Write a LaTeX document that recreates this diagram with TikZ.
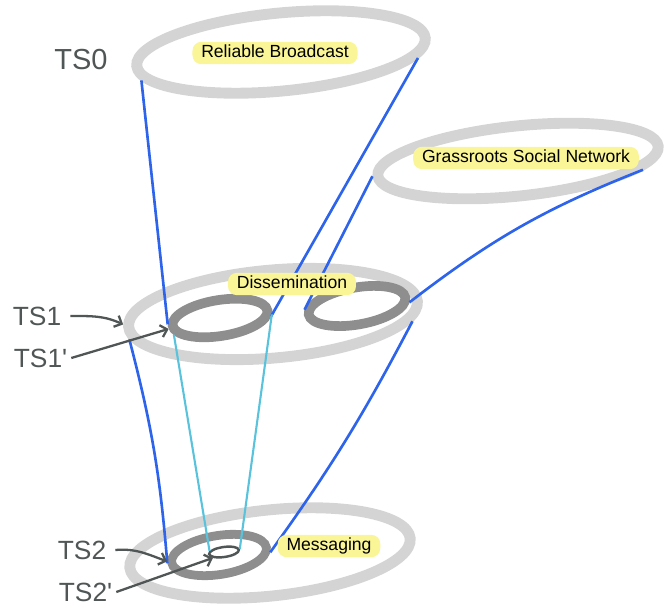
\documentclass[tikz,border=0pt]{standalone}
\usepackage{fontspec}
\setmainfont{Liberation Sans}
\usetikzlibrary{shapes.geometric,arrows.meta}
\definecolor{ringgray}{RGB}{212,212,212}
\definecolor{darkring}{RGB}{142,142,142}
\definecolor{lineblue}{RGB}{45,100,235}
\definecolor{linecyan}{RGB}{90,195,220}
\definecolor{pengray}{RGB}{80,85,85}
\definecolor{hlyellow}{RGB}{250,245,150}
\begin{document}
\begin{tikzpicture}[x=0.02cm, y=-0.02cm]
			\tikzset{ring/.style 2 args={ellipse, draw=ringgray, line width=6.2pt,
						inner sep=0pt, minimum width=#1*0.04cm, minimum height=#2*0.04cm}}
			\tikzset{inring/.style 2 args={ring={#1}{#2}, draw=darkring, line width=5.5pt}}
			\tikzset{hlnode/.style={fill=hlyellow, rounded corners=5pt, inner xsep=5pt,
						inner ysep=1.5pt, text height=7.5pt, text depth=2.2pt,
						font=\fontsize{10}{12}\selectfont}}
			\tikzset{hand/.style={text=pengray, inner sep=5pt, font=\fontsize{15}{18}\selectfont}}
			\tikzset{blueline/.style={draw=lineblue, line width=1.5pt}}
			\tikzset{cyanline/.style={draw=linecyan, line width=1.2pt}}
			\tikzset{pen/.style={draw=pengray, line width=1.3pt,
						-{Straight Barb[length=3.5pt,width=7pt]}}}

				\useasboundingbox (0,0) rectangle (665,614);

				\node[ring={145}{39}, rotate=5.5] (rb) at (281,52) {};
				\node[ring={141}{35}, rotate=6] (gsn) at (518,161) {};
				\node[ring={145}{44}, rotate=5] (dis) at (273,314) {};
				\node[ring={141}{43}, rotate=6] (msg) at (270,553) {};
				\node[inring={48}{18}, rotate=9] (disL) at (220,318) {};
				\node[inring={49}{18.5}, rotate=10] (disR) at (357,306) {};
				\node[inring={48}{19.5}, rotate=9, line width=5pt] (msgL) at (219,555) {};
				\node[ring={15}{5}, draw=pengray, line width=1.4pt, rotate=8] (msgdot) at (224,552) {};

				\draw[blueline] (rb.186) -- (disL.178);
				\draw[blueline] (rb.352) -- (disL.353);
				\draw[blueline] (gsn.180) -- (disR.174);
				\draw[blueline] (gsn.350) to[bend right=8] (disR.354);
				\draw[blueline] (dis.185) to[bend left=5] (msgL.180);
				\draw[blueline] (dis.352) to[bend left=4] (msgL.354);
				\draw[cyanline] (disL.191) -- (msgdot.168);
				\draw[cyanline] (disL.355) -- (msgdot.3);

				\node[hlnode] (rbt) at (275,53) {Reliable Broadcast};
				\node[hlnode] (gsnt) at (526,158) {Grassroots Social Network};
				\node[hlnode] (dist) at (292,284) {Dissemination};
				\node[hlnode] (msgt) at (329,546) {Messaging};

				\node[hand, font=\fontsize{16.5}{20}\selectfont] (ts0) at (81,60) {TS0};
				\node[hand] (ts1) at (37,316) {TS1};
				\node[hand] (ts1p) at (38,358) {TS1\rlap{\textquotesingle}};
				\node[hand] (ts2) at (82,550) {TS2};
				\node[hand] (ts2p) at (83,592) {TS2\rlap{\textquotesingle}};

				\draw[pen] (ts1.east) to[out=0, in=155] (dis.179);
				\draw[pen] (ts1p.east) -- (disL.183);
				\draw[pen] (ts2.east) to[out=5, in=160] (msgL.178);
				\draw[pen] (ts2p.east) -- (msgdot.200);
		\end{tikzpicture}
\end{document}
